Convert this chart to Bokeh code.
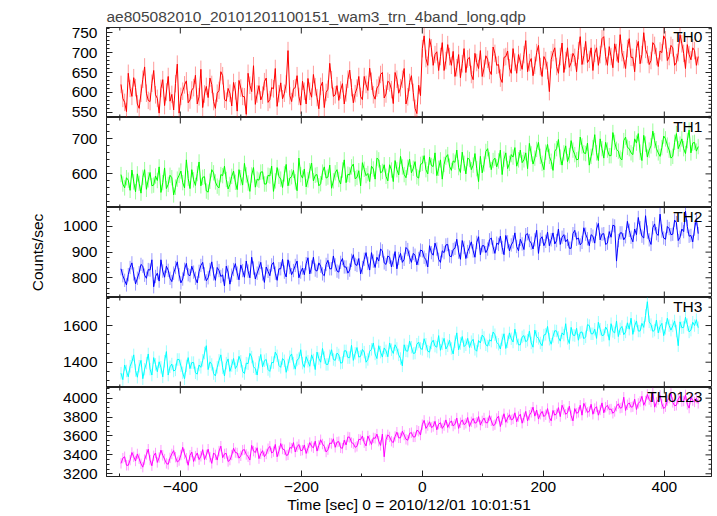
import numpy as np
from bokeh.plotting import figure
from bokeh.layouts import column
from bokeh.models import Range1d, SingleIntervalTicker, Label
from bokeh.embed import file_html
from bokeh.resources import INLINE

t_start = -498.0
t_step = 3.0

th0 = [620, 585, 575, 552, 648, 610, 590, 637, 612, 571,
       560, 598, 633, 664, 598, 580, 577, 623, 655, 594,
       585, 548, 610, 632, 567, 601, 640, 578, 595, 556,
       622, 671, 548, 590, 603, 619, 629, 574, 581, 606,
       612, 643, 571, 589, 658, 562, 596, 615, 587, 636,
       620, 577, 560, 598, 605, 652, 642, 583, 578, 610,
       598, 566, 625, 604, 553, 630, 611, 590, 589, 545,
       648, 618, 602, 667, 570, 596, 617, 581, 593, 627,
       636, 575, 582, 612, 609, 660, 565, 597, 624, 584,
       598, 621, 705, 592, 577, 609, 612, 642, 590, 568,
       628, 603, 571, 635, 603, 588, 645, 614, 587, 559,
       615, 626, 562, 600, 608, 673, 632, 590, 594, 617,
       580, 606, 622, 571, 599, 633, 656, 612, 574, 597,
       611, 640, 590, 582, 640, 620, 605, 661, 628, 594,
       583, 611, 618, 645, 650, 586, 596, 628, 624, 607,
       572, 650, 633, 598, 612, 633, 660, 571, 589, 625,
       642, 600, 560, 547, 618, 592, 710, 742, 685, 668,
       735, 712, 668, 695, 702, 655, 690, 725, 655, 680,
       720, 690, 668, 703, 640, 662, 695, 637, 672, 710,
       650, 684, 688, 645, 632, 698, 675, 660, 705, 640,
       660, 692, 683, 655, 645, 714, 698, 668, 670, 636,
       625, 688, 690, 704, 662, 648, 710, 676, 648, 695,
       676, 658, 695, 730, 652, 675, 685, 642, 668, 700,
       718, 665, 640, 690, 680, 655, 602, 682, 700, 712,
       665, 648, 690, 724, 650, 680, 712, 663, 675, 698,
       688, 652, 705, 740, 670, 692, 728, 675, 683, 712,
       655, 698, 712, 668, 695, 735, 740, 690, 668, 715,
       690, 662, 722, 700, 675, 745, 700, 682, 660, 710,
       735, 688, 688, 652, 710, 728, 672, 695, 750, 708,
       695, 670, 680, 725, 718, 690, 665, 704, 700, 742,
       732, 680, 690, 718, 712, 668, 675, 700, 745, 722,
       698, 660, 720, 695, 682, 712, 705, 668, 690]

th1 = [598, 571, 560, 589, 582, 553, 611, 577, 549, 600,
       573, 545, 590, 612, 556, 583, 604, 566, 568, 594,
       581, 620, 547, 575, 617, 558, 570, 596, 589, 540,
       562, 585, 596, 608, 575, 560, 640, 587, 558, 612,
       583, 567, 601, 634, 566, 590, 592, 551, 548, 579,
       612, 603, 577, 565, 560, 598, 595, 622, 584, 557,
       570, 593, 608, 576, 555, 612, 589, 568, 630, 597,
       574, 550, 597, 618, 562, 585, 582, 605, 606, 571,
       571, 596, 594, 622, 550, 580, 618, 593, 585, 561,
       600, 627, 566, 588, 592, 610, 577, 552, 645, 598,
       588, 614, 563, 583, 609, 631, 580, 596, 598, 566,
       572, 605, 620, 588, 591, 625, 559, 580, 603, 612,
       584, 571, 611, 640, 575, 599, 597, 620, 628, 586,
       590, 609, 566, 632, 613, 595, 601, 578, 622, 614,
       585, 645, 640, 603, 607, 626, 593, 580, 626, 611,
       578, 638, 612, 597, 650, 620, 598, 589, 619, 642,
       603, 616, 635, 592, 588, 627, 630, 652, 612, 600,
       648, 624, 621, 660, 595, 616, 640, 585, 627, 648,
       655, 622, 610, 637, 633, 668, 618, 604, 662, 630,
       600, 645, 641, 612, 625, 658, 615, 578, 650, 603,
       628, 664, 672, 640, 612, 638, 645, 620, 637, 668,
       598, 642, 660, 615, 630, 655, 648, 675, 622, 640,
       668, 632, 640, 660, 615, 687, 657, 628, 645, 670,
       690, 650, 630, 612, 662, 684, 650, 636, 610, 665,
       672, 698, 648, 625, 660, 680, 635, 652, 695, 668,
       655, 640, 642, 705, 680, 660, 658, 688, 625, 650,
       675, 712, 660, 638, 700, 672, 645, 690, 668, 652,
       652, 718, 690, 670, 665, 645, 640, 695, 705, 676,
       672, 660, 655, 700, 688, 715, 662, 638, 710, 685,
       648, 668, 680, 722, 695, 672, 660, 650, 675, 708,
       700, 682, 668, 645, 650, 690, 715, 672, 685, 700,
       672, 658, 695, 725, 660, 688, 690, 665, 678]

th2 = [835, 808, 790, 772, 812, 840, 858, 815, 776, 798,
       820, 852, 845, 810, 798, 832, 830, 870, 765, 805,
       818, 787, 870, 826, 802, 845, 829, 798, 785, 818,
       840, 862, 812, 780, 795, 833, 856, 812, 808, 845,
       822, 798, 780, 825, 848, 860, 815, 788, 800, 832,
       862, 815, 790, 840, 828, 805, 811, 768, 845, 822,
       775, 810, 832, 855, 818, 792, 850, 828, 802, 865,
       826, 800, 880, 838, 795, 818, 838, 860, 815, 782,
       842, 825, 808, 850, 860, 818, 790, 835, 835, 872,
       822, 803, 870, 840, 812, 828, 848, 865, 800, 822,
       838, 812, 855, 878, 815, 842, 880, 830, 826, 858,
       845, 815, 808, 852, 868, 835, 835, 885, 850, 826,
       822, 860, 875, 842, 842, 818, 830, 868, 890, 852,
       848, 875, 815, 840, 872, 898, 856, 830, 898, 865,
       840, 880, 865, 912, 905, 858, 852, 885, 880, 842,
       868, 902, 835, 875, 895, 860, 872, 918, 910, 880,
       860, 895, 888, 850, 875, 908, 905, 880, 870, 842,
       925, 898, 888, 935, 912, 872, 860, 905, 898, 928,
       930, 885, 882, 910, 915, 950, 900, 872, 945, 918,
       875, 902, 920, 940, 905, 880, 938, 960, 890, 925,
       925, 898, 912, 948, 955, 920, 895, 935, 930, 962,
       918, 890, 965, 940, 905, 928, 940, 975, 922, 905,
       950, 932, 910, 968, 972, 945, 935, 912, 948, 985,
       895, 950, 960, 925, 942, 978, 925, 948, 975, 932,
       945, 990, 930, 958, 968, 940, 950, 915, 915, 972,
       985, 950, 955, 928, 938, 995, 970, 952, 925, 968,
       962, 935, 990, 1012, 948, 970, 972, 930, 935, 980,
       958, 1005, 1002, 865, 945, 975, 975, 948, 960, 1020,
       985, 958, 940, 990, 968, 1035, 995, 962, 955, 1042,
       978, 948, 930, 995, 1010, 972, 965, 1048, 982, 955,
       950, 1000, 992, 968, 970, 1025, 1015, 945, 958, 990,
       980, 1060, 1000, 962, 965, 940, 990, 1030, 972]

th3 = [1340, 1305, 1385, 1352, 1320, 1378, 1402, 1440, 1355, 1318,
       1378, 1410, 1310, 1362, 1395, 1445, 1362, 1330, 1425, 1388,
       1348, 1402, 1372, 1320, 1405, 1458, 1330, 1375, 1390, 1352,
       1358, 1415, 1415, 1380, 1342, 1310, 1380, 1425, 1365, 1398,
       1398, 1342, 1335, 1385, 1372, 1410, 1450, 1490, 1360, 1402,
       1388, 1338, 1325, 1372, 1410, 1440, 1370, 1325, 1395, 1418,
       1350, 1382, 1420, 1365, 1382, 1432, 1405, 1350, 1338, 1395,
       1392, 1448, 1428, 1375, 1365, 1330, 1400, 1442, 1375, 1408,
       1415, 1360, 1350, 1398, 1398, 1455, 1435, 1382, 1372, 1420,
       1408, 1345, 1385, 1430, 1445, 1395, 1362, 1412, 1420, 1468,
       1395, 1372, 1430, 1405, 1378, 1440, 1412, 1360, 1455, 1420,
       1400, 1475, 1425, 1388, 1388, 1435, 1468, 1415, 1410, 1450,
       1440, 1395, 1398, 1462, 1462, 1425, 1425, 1492, 1410, 1448,
       1480, 1428, 1432, 1470, 1455, 1400, 1415, 1460, 1470, 1505,
       1445, 1420, 1490, 1455, 1428, 1478, 1462, 1430, 1505, 1468,
       1448, 1495, 1475, 1440, 1420, 1380, 1495, 1462, 1460, 1515,
       1482, 1448, 1450, 1498, 1510, 1475, 1470, 1528, 1498, 1460,
       1455, 1505, 1520, 1488, 1482, 1545, 1465, 1500, 1530, 1472,
       1490, 1520, 1475, 1445, 1512, 1560, 1468, 1502, 1540, 1485,
       1495, 1530, 1480, 1512, 1525, 1470, 1460, 1518, 1505, 1548,
       1535, 1495, 1488, 1522, 1515, 1565, 1550, 1508, 1498, 1472,
       1522, 1555, 1475, 1512, 1560, 1528, 1510, 1580, 1530, 1495,
       1495, 1538, 1545, 1512, 1520, 1570, 1505, 1482, 1575, 1540,
       1530, 1505, 1490, 1548, 1552, 1595, 1525, 1498, 1540, 1572,
       1570, 1535, 1515, 1560, 1548, 1610, 1530, 1502, 1590, 1548,
       1545, 1585, 1520, 1562, 1565, 1528, 1538, 1605, 1600, 1555,
       1555, 1580, 1530, 1618, 1580, 1545, 1548, 1592, 1575, 1520,
       1610, 1568, 1560, 1625, 1540, 1582, 1595, 1550, 1565, 1615,
       1580, 1640, 1552, 1598, 1625, 1570, 1570, 1612, 1590, 1655,
       1730, 1620, 1605, 1568, 1575, 1630, 1560, 1595, 1612, 1545,
       1585, 1640, 1600, 1575, 1598, 1625, 1570, 1490, 1620, 1588,
       1590, 1645, 1605, 1565, 1575, 1618, 1600, 1632, 1588]

th0123 = [3310, 3365, 3380, 3290, 3290, 3345, 3425, 3380, 3335, 3410,
          3360, 3305, 3270, 3350, 3405, 3460, 3345, 3285, 3390, 3420,
          3320, 3372, 3450, 3395, 3355, 3310, 3300, 3368, 3410, 3445,
          3375, 3325, 3340, 3398, 3480, 3410, 3365, 3290, 3395, 3430,
          3330, 3385, 3420, 3350, 3385, 3455, 3350, 3400, 3460, 3375,
          3310, 3420, 3400, 3345, 3440, 3492, 3370, 3410, 3415, 3330,
          3345, 3398, 3470, 3425, 3420, 3365, 3390, 3450, 3455, 3405,
          3380, 3345, 3500, 3440, 3425, 3475, 3360, 3412, 3445, 3380,
          3410, 3465, 3490, 3420, 3435, 3510, 3380, 3440, 3520, 3462,
          3455, 3395, 3400, 3478, 3470, 3530, 3430, 3485, 3510, 3445,
          3450, 3505, 3415, 3470, 3530, 3490, 3475, 3545, 3440, 3500,
          3560, 3515, 3490, 3430, 3455, 3525, 3520, 3570, 3480, 3535,
          3540, 3475, 3470, 3555, 3505, 3590, 3585, 3530, 3520, 3480,
          3490, 3565, 3560, 3600, 3530, 3495, 3600, 3555, 3510, 3580,
          3575, 3620, 3545, 3500, 3620, 3380, 3560, 3612, 3590, 3545,
          3530, 3595, 3640, 3580, 3580, 3650, 3610, 3565, 3555, 3628,
          3635, 3590, 3590, 3660, 3650, 3610, 3720, 3765, 3680, 3710,
          3750, 3690, 3700, 3755, 3665, 3725, 3740, 3680, 3710, 3770,
          3690, 3735, 3760, 3705, 3725, 3790, 3680, 3740, 3770, 3720,
          3735, 3795, 3700, 3750, 3785, 3735, 3745, 3805, 3715, 3760,
          3790, 3740, 3740, 3815, 3760, 3710, 3720, 3785, 3810, 3700,
          3770, 3835, 3745, 3790, 3825, 3770, 3780, 3845, 3750, 3805,
          3830, 3735, 3795, 3860, 3760, 3820, 3850, 3905, 3810, 3875,
          3780, 3830, 3860, 3805, 3825, 3890, 3795, 3760, 3870, 3820,
          3835, 3900, 3805, 3925, 3880, 3830, 3845, 3915, 3815, 3760,
          3890, 3840, 3850, 3925, 3820, 3945, 3900, 3850, 3860, 3935,
          3830, 3890, 3910, 3820, 3875, 3950, 3845, 3905, 3925, 3880,
          3885, 3840, 3860, 3915, 3940, 3895, 3900, 4010, 3870, 3930,
          3950, 3905, 3910, 3990, 3880, 3945, 3965, 4020, 3925, 3970,
          4040, 3985, 3960, 4060, 3905, 3955, 3985, 4030, 3940, 3890,
          3910, 3975, 4000, 4050, 3955, 3920, 3925, 3990, 4020, 3965,
          3970, 4035, 3935, 3895, 4010, 3975, 3960, 4000, 3945]

# typical 1-sigma error bar of a point in each band (counts/sec)
rate_err = [22, 22, 26, 34, 55]

series = [th0, th1, th2, th3, th0123]
band_names = ["TH0", "TH1", "TH2", "TH3", "TH0123"]
y_lows = [537, 504, 723, 1262, 3171]
y_highs = [763, 761, 1074, 1753, 4113]
y_major = [50, 100, 100, 200, 200]
y_minor = [10, 20, 20, 50, 50]
x_low, x_high = -522, 478
x_major, x_minor = 200, 100

title_text = "ae805082010_20101201100151_wam3_trn_4band_long.qdp"
x_label = "Time [sec] 0 = 2010/12/01 10:01:51"
y_label = "Counts/sec"

# ---- styling ----
colors = ["#ff0000", "#00ff00", "#0000ff", "#00ffff", "#ff00ff"]
FONT = "Liberation Sans"
FS = "15.5px"
AX = "#222222"
MAJ_LEN, MIN_LEN = 6, 3
FRAME_W = 605

x_range = Range1d(x_low, x_high)


def tick_positions(lo, hi, step):
    return np.arange(np.ceil(lo / step) * step, hi + 1e-9, step)


def split_ticks(lo, hi, major, minor):
    allt = tick_positions(lo, hi, minor)
    r = np.mod(allt, major)
    is_major = np.isclose(r, 0) | np.isclose(r, major)
    return allt[is_major], allt[~is_major]


def style_axis(ax):
    ax.major_tick_in = MAJ_LEN
    ax.major_tick_out = 0
    ax.minor_tick_in = MIN_LEN
    ax.minor_tick_out = 0
    ax.axis_line_color = AX
    ax.major_tick_line_color = AX
    ax.minor_tick_line_color = AX
    ax.major_label_text_font = FONT
    ax.major_label_text_font_size = FS
    ax.major_label_text_color = "black"
    ax.axis_label_text_font = FONT
    ax.axis_label_text_font_size = FS
    ax.axis_label_text_font_style = "normal"
    ax.axis_label_text_color = "black"


figs = []
n_panels = len(series)
for k in range(n_panels):
    y = np.array(series[k], dtype=float)
    t = t_start + t_step * np.arange(len(y))
    e = rate_err[k]
    first = k == 0
    last = k == n_panels - 1
    frame_h = 89 if last else 90
    ylo, yhi = y_lows[k], y_highs[k]
    p = figure(
        output_backend="svg", toolbar_location=None,
        frame_width=FRAME_W, frame_height=frame_h,
        x_range=x_range, y_range=Range1d(ylo, yhi),
        x_axis_location="below" if last else None,
        min_border_left=106, min_border_right=6,
        min_border_top=27 if first else 0,
        min_border_bottom=40 if last else 0,
        background_fill_color="white", border_fill_color="white",
        outline_line_color=AX,
    )
    p.grid.visible = False
    # error bars (lighter) and the light curve
    p.segment(t, y - e, t, y + e, line_color=colors[k], line_alpha=0.4, line_width=1)
    p.line(t, y, line_color=colors[k], line_width=1)

    yt = SingleIntervalTicker(interval=y_major[k],
                              num_minor_ticks=int(round(y_major[k] / y_minor[k])))
    ya = p.yaxis[0]
    ya.ticker = yt
    style_axis(ya)
    ya.major_label_standoff = 9
    if k == 2:
        ya.axis_label = y_label
        ya.axis_label_standoff = 14

    # inward ticks on the edges without an axis
    xM, xm = split_ticks(x_low, x_high, x_major, x_minor)
    yM, ym = split_ticks(ylo, yhi, y_major[k], y_minor[k])
    dy_per_px = (yhi - ylo) / frame_h
    dx_per_px = (x_high - x_low) / FRAME_W
    edges = [(yhi, -1)] if last else [(yhi, -1), (ylo, 1)]
    for y_edge, sgn in edges:
        for pos, ln in ((xM, MAJ_LEN), (xm, MIN_LEN)):
            p.segment(pos, np.full(len(pos), y_edge), pos,
                      np.full(len(pos), y_edge + sgn * ln * dy_per_px),
                      line_color=AX, line_width=1)
    for pos, ln in ((yM, MAJ_LEN), (ym, MIN_LEN)):
        p.segment(np.full(len(pos), x_high), pos,
                  np.full(len(pos), x_high - ln * dx_per_px), pos,
                  line_color=AX, line_width=1)

    if last:
        xa = p.xaxis[0]
        xa.ticker = SingleIntervalTicker(interval=x_major, num_minor_ticks=int(x_major / x_minor))
        style_axis(xa)
        xa.major_label_standoff = 5
        xa.axis_label = x_label
        xa.axis_label_standoff = 1
        xa.major_label_overrides = {-400: "\u2212400", -200: "\u2212200"}

    p.add_layout(Label(x=463, y=yhi, text=band_names[k],
                       text_align="right", text_baseline="top", y_offset=0,
                       text_font=FONT, text_font_size=FS, text_color="black"))
    if first:
        p.title.text = title_text
        p.title.text_font = FONT
        p.title.text_font_size = FS
        p.title.text_font_style = "normal"
        p.title.align = "left"
        p.title.standoff = 6
    figs.append(p)

layout = column(*figs, spacing=0)
open("out.html", "w").write(file_html(layout, INLINE))
